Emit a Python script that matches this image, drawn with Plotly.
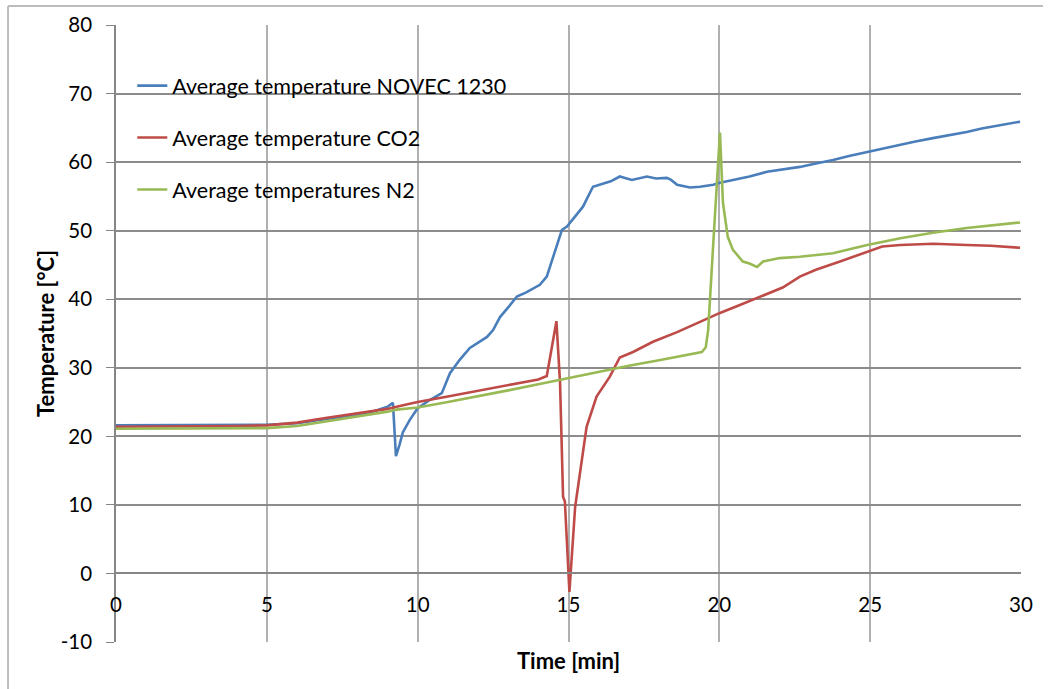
import plotly.graph_objects as go

# ---- data ----
novec_t = [0, 2, 4, 5, 6, 7, 8, 8.5, 8.75, 9.0, 9.18, 9.28, 9.4, 9.51, 9.74, 10.0, 10.4, 10.8,
           11.07, 11.4, 11.73, 12.0, 12.3, 12.5, 12.73, 13.0, 13.29, 13.6, 14.05, 14.28, 14.55,
           14.78, 14.95, 15.2, 15.48, 15.81, 16.04, 16.4, 16.7, 17.1, 17.6, 17.9, 18.26, 18.4,
           18.6, 19.03, 19.36, 19.8, 20.02, 20.5, 21.0, 21.58, 22.1, 22.67, 23.2, 23.77, 24.3,
           24.9, 25.5, 26.0, 26.5, 27.08, 27.6, 28.2, 28.7, 29.3, 29.97]
novec_T = [21.6, 21.6, 21.6, 21.7, 21.9, 22.5, 23.2, 23.6, 23.9, 24.3, 24.9, 17.1, 18.8, 20.6,
           22.4, 24.1, 25.3, 26.3, 29.2, 31.2, 32.9, 33.6, 34.5, 35.5, 37.4, 38.8, 40.4, 41.0,
           42.1, 43.3, 46.8, 50.1, 50.6, 51.9, 53.5, 56.4, 56.7, 57.2, 57.9, 57.4, 57.9, 57.6,
           57.7, 57.4, 56.7, 56.3, 56.4, 56.7, 57.0, 57.4, 57.9, 58.6, 58.9, 59.3, 59.8, 60.3,
           60.9, 61.5, 62.0, 62.5, 63.0, 63.5, 63.9, 64.4, 64.9, 65.4, 65.9]

co2_t = [0, 2, 4, 5, 6, 7, 8, 8.5, 9, 9.3, 10, 11, 12, 13, 14, 14.28, 14.45, 14.6, 14.72, 14.82,
         14.88, 15.03, 15.22, 15.4, 15.6, 15.93, 16.37, 16.7, 17.14, 17.8, 18.6, 19.36, 20.02,
         20.6, 21.25, 22.1, 22.67, 23.2, 24.0, 24.9, 25.4, 26.0, 27.1, 28.2, 29.0, 29.97]
co2_T = [21.4, 21.4, 21.5, 21.6, 22.0, 22.7, 23.3, 23.6, 24.0, 24.3, 25.0, 25.8, 26.6, 27.5,
         28.3, 28.8, 33.0, 36.8, 27.8, 11.2, 10.5, -2.7, 9.7, 15.1, 21.4, 25.8, 28.7, 31.5,
         32.3, 33.8, 35.2, 36.7, 38.0, 39.0, 40.2, 41.7, 43.3, 44.3, 45.5, 46.9, 47.7, 47.9,
         48.1, 47.9, 47.8, 47.5]

n2_t = [0, 2, 4, 5, 6, 7, 8, 8.5, 9, 9.3, 10, 11, 12, 13, 14, 14.98, 16.0, 16.5, 17, 18, 19,
        19.42, 19.55, 19.63, 19.8, 20.02, 20.12, 20.28, 20.45, 20.78, 21.0, 21.25, 21.45, 22.0,
        22.67, 23.77, 24.9, 26.0, 27.08, 28.2, 29.97]
n2_T = [21.1, 21.1, 21.1, 21.2, 21.5, 22.2, 22.9, 23.2, 23.6, 23.9, 24.2, 25.0, 25.8, 26.7,
        27.6, 28.5, 29.4, 29.8, 30.3, 31.1, 31.9, 32.3, 33.0, 35.5, 48.2, 64.3, 54.1, 49.1,
        47.2, 45.5, 45.2, 44.7, 45.5, 46.0, 46.2, 46.7, 47.9, 48.9, 49.7, 50.4, 51.2]

series_names = ["Average temperature NOVEC 1230", "Average temperature CO2",
                "Average temperatures N2"]
series_colors = ["#4A7EBB", "#BE4B48", "#98B954"]

x_ticks = [0, 5, 10, 15, 20, 25, 30]
y_ticks = [-10, 0, 10, 20, 30, 40, 50, 60, 70, 80]

FONT = "Lato"

fig = go.Figure()
for i, (xs, ys) in enumerate([(novec_t, novec_T), (co2_t, co2_T), (n2_t, n2_T)]):
    fig.add_trace(go.Scatter(x=xs, y=ys, mode="lines", name=series_names[i],
                             legendgroup="g%d" % i,
                             line=dict(color=series_colors[i], width=2.6)))

fig.update_layout(
    width=1052, height=689,
    margin=dict(l=116, r=31, t=25, b=47),
    paper_bgcolor="white", plot_bgcolor="white",
    font=dict(family=FONT, size=21, color="black"),
    showlegend=True,
    legend=dict(x=0.018, y=0.935, xanchor="left", yanchor="top",
                bgcolor="rgba(0,0,0,0)", tracegroupgap=21,
                font=dict(family=FONT, size=21.5, color="black")),
)

fig.update_xaxes(
    range=[0, 30], tickvals=x_ticks, ticktext=[str(v) for v in x_ticks],
    showgrid=True, gridcolor="#B0B0B0", gridwidth=1.5,
    zeroline=False, anchor="free", position=10 / 90,
    showline=True, linecolor="#868686", linewidth=2,
    ticks="outside", ticklen=13, tickcolor="rgba(0,0,0,0)",
    tickfont=dict(family=FONT, size=20.5, color="black"),
)
fig.update_yaxes(
    range=[-10, 80], tickvals=y_ticks, ticktext=[str(v) for v in y_ticks],
    showgrid=True, gridcolor="#8C8C8C", gridwidth=1.5,
    zeroline=False, showline=True, linecolor="#868686", linewidth=1.5,
    ticks="outside", ticklen=8, tickcolor="#868686",
    ticklabelstandoff=10,
    tickfont=dict(family=FONT, size=20.5, color="black"),
    title=dict(text="<b>Temperature [°C]</b>", standoff=0,
               font=dict(family=FONT, size=22, color="black")),
)

fig.add_annotation(text="<b>Time [min]</b>", xref="paper", yref="paper",
                   x=0.5, y=-0.0295, xanchor="center", yanchor="middle", showarrow=False,
                   font=dict(family=FONT, size=22, color="black"))

# outer chart frame
fig.add_shape(type="line", xref="paper", yref="paper", x0=-0.1193, x1=-0.1193,
              y0=1.0308, y1=-0.2, line=dict(color="#BDBDBD", width=2))
fig.add_shape(type="line", xref="paper", yref="paper", x0=-0.1193, x1=1.0243,
              y0=1.0308, y1=1.0308, line=dict(color="#BDBDBD", width=2))

fig.write_html("out.html")
